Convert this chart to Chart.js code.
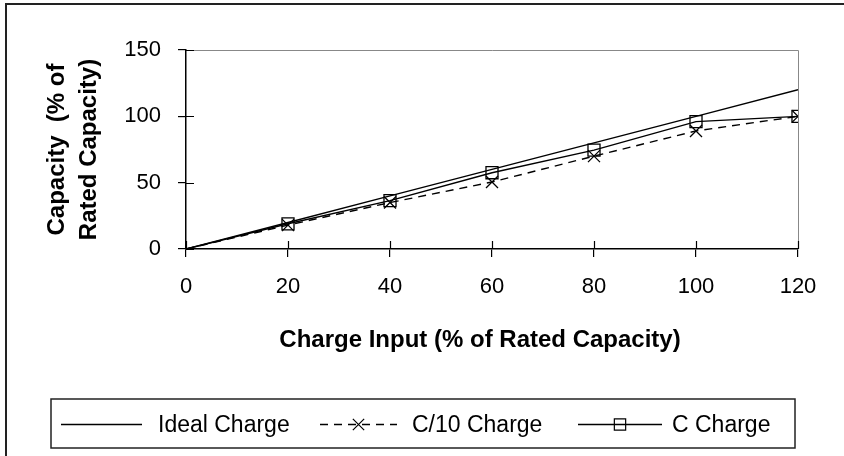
<!DOCTYPE html>
<html>
<head>
<meta charset="utf-8">
<script src="https://cdn.jsdelivr.net/npm/chart.js@4/dist/chart.umd.min.js"></script>
<style>
  html, body { margin: 0; padding: 0; background: #fff; }
  canvas { display: block; }
</style>
</head>
<body>
<canvas id="c" width="844" height="456"></canvas>
<script>
// ---- data ----
const chargeInput = [0, 20, 40, 60, 80, 100, 120];
const idealCharge = [0, 20, 40, 60, 80, 100, 120];
const c10Charge   = [0, 18, 35, 50.5, 70, 89, 100];
const cCharge     = [0, 19, 36.5, 57.5, 74.5, 96, 100];
const seriesNames = ['Ideal Charge', 'C/10 Charge', 'C Charge'];
const xTitle = 'Charge Input (% of Rated Capacity)';
const yTitle = ['Capacity  (% of', 'Rated Capacity)'];

const FONT = '"Liberation Sans", Arial, Helvetica, sans-serif';

function pts(ys) { return chargeInput.map((x, i) => ({ x: x, y: ys[i] })); }

const decor = {
  id: 'decor',
  afterDraw(chart) {
    const ctx = chart.ctx;
    const ca = chart.chartArea;
    const xs = chart.scales.x, ys = chart.scales.y;
    ctx.save();
    // outer frame (left & top)
    ctx.strokeStyle = '#222';
    ctx.lineWidth = 2;
    ctx.beginPath();
    ctx.moveTo(6, 456); ctx.lineTo(6, 4); ctx.lineTo(844, 4);
    ctx.stroke();
    // plot frame top/right (gray)
    ctx.strokeStyle = '#888';
    ctx.lineWidth = 1;
    ctx.beginPath();
    ctx.moveTo(ca.left, ca.top + 0.5); ctx.lineTo(ca.right + 0.5, ca.top + 0.5); ctx.lineTo(ca.right + 0.5, ca.bottom);
    ctx.stroke();
    // inner halves of crossing tick marks
    ctx.strokeStyle = '#000';
    ctx.lineWidth = 1.2;
    ctx.beginPath();
    xs.ticks.forEach(t => { const px = Math.round(xs.getPixelForValue(t.value)) + 0.5; ctx.moveTo(px, ca.bottom); ctx.lineTo(px, ca.bottom - 8); });
    ys.ticks.forEach(t => { const py = Math.round(ys.getPixelForValue(t.value)) + 0.5; ctx.moveTo(ca.left, py); ctx.lineTo(ca.left + 8, py); });
    ctx.stroke();
    // axis titles
    ctx.fillStyle = '#000';
    ctx.font = 'bold 24px ' + FONT;
    ctx.textAlign = 'center';
    ctx.textBaseline = 'alphabetic';
    ctx.fillText(xTitle, 480, 347);
    ctx.save();
    ctx.translate(0, (ca.top + ca.bottom) / 2);
    ctx.rotate(-Math.PI / 2);
    ctx.textBaseline = 'middle';
    ctx.fillText(yTitle[0], 0, 57);
    ctx.fillText(yTitle[1], 0, 89);
    ctx.restore();
    // legend
    ctx.strokeStyle = '#222';
    ctx.lineWidth = 1.5;
    ctx.strokeRect(51, 399, 744, 49);
    const ly = 424.5;
    const items = [
      { ds: 0, x0: 61, x1: 142, tx: 158 },
      { ds: 1, x0: 320, x1: 397, tx: 412 },
      { ds: 2, x0: 578, x1: 662, tx: 672 }
    ];
    ctx.font = '23px ' + FONT;
    ctx.textAlign = 'left';
    ctx.textBaseline = 'alphabetic';
    items.forEach(it => {
      const d = chart.data.datasets[it.ds];
      ctx.save();
      ctx.strokeStyle = '#000';
      ctx.lineWidth = 1.3;
      ctx.setLineDash(d.borderDash || []);
      ctx.beginPath(); ctx.moveTo(it.x0, ly); ctx.lineTo(it.x1, ly); ctx.stroke();
      ctx.setLineDash([]);
      if (d.pointStyle && d.pointStyle !== 'line') {
        ctx.fillStyle = 'rgba(0,0,0,0)';
        ctx.lineWidth = 1.2;
        Chart.helpers.drawPoint(ctx, { pointStyle: d.pointStyle, radius: 8, rotation: 0, borderWidth: 1.2 }, (it.x0 + it.x1) / 2, ly);
      }
      ctx.restore();
      ctx.fillStyle = '#000';
      ctx.fillText(seriesNames[it.ds], it.tx, 432);
    });
    ctx.restore();
  }
};

const markerRadius = ctx => (ctx.dataIndex === 0 ? 0 : 8.5);

new Chart(document.getElementById('c'), {
  type: 'line',
  data: {
    datasets: [
      { label: seriesNames[0], data: pts(idealCharge), borderColor: '#000', borderWidth: 1.4, pointRadius: 0, pointStyle: false, tension: 0 },
      { label: seriesNames[1], data: pts(c10Charge), borderColor: '#000', borderWidth: 1.4, borderDash: [8, 6],
        pointStyle: 'crossRot', pointRadius: markerRadius, pointBorderColor: '#000', pointBorderWidth: 1.3,
        pointBackgroundColor: 'rgba(0,0,0,0)', tension: 0 },
      { label: seriesNames[2], data: pts(cCharge), borderColor: '#000', borderWidth: 1.4,
        pointStyle: 'rect', pointRadius: markerRadius, pointBorderColor: '#000', pointBorderWidth: 1.3,
        pointBackgroundColor: 'rgba(0,0,0,0)', tension: 0 }
    ]
  },
  options: {
    responsive: false,
    animation: false,
    layout: { padding: { left: 126, right: 46, top: 50, bottom: 147 } },
    plugins: { legend: { display: false }, tooltip: { enabled: false } },
    scales: {
      x: {
        type: 'linear', min: 0, max: 120,
        ticks: { stepSize: 20, color: '#000', font: { family: FONT, size: 22 }, padding: 17, maxRotation: 0 },
        grid: { drawOnChartArea: false, drawTicks: true, tickLength: 8, color: '#000', lineWidth: 1.2 },
        border: { color: '#000', width: 1.5 },
        afterFit: s => { s.height = 60; }
      },
      y: {
        min: 0, max: 150,
        ticks: { stepSize: 50, color: '#000', font: { family: FONT, size: 22 }, padding: 17 },
        grid: { drawOnChartArea: false, drawTicks: true, tickLength: 8, color: '#000', lineWidth: 1.2 },
        border: { color: '#000', width: 1.5 },
        afterFit: s => { s.width = 60; }
      }
    }
  },
  plugins: [decor]
});
</script>
</body>
</html>
